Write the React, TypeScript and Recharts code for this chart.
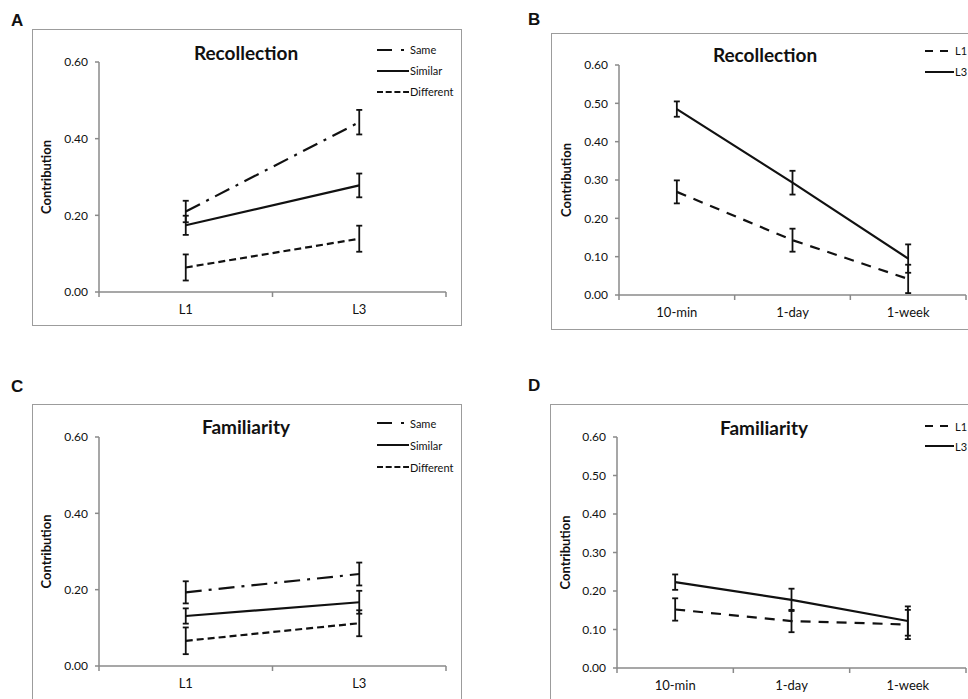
import React from 'react';
import { LineChart, Line, XAxis, YAxis, ErrorBar, Legend } from 'recharts';

// ---------- data ----------
const levels = ['L1', 'L3'];
const delays = ['10-min', '1-day', '1-week'];

const recSame = [0.21, 0.443];
const recSameErr = [0.028, 0.032];
const recSimilar = [0.174, 0.278];
const recSimilarErr = [0.025, 0.031];
const recDifferent = [0.064, 0.139];
const recDifferentErr = [0.034, 0.034];

const famSame = [0.193, 0.241];
const famSameErr = [0.029, 0.03];
const famSimilar = [0.131, 0.167];
const famSimilarErr = [0.02, 0.03];
const famDifferent = [0.066, 0.112];
const famDifferentErr = [0.035, 0.034];

const recL1 = [0.269, 0.143, 0.042];
const recL1Err = [0.03, 0.03, 0.037];
const recL3 = [0.485, 0.293, 0.095];
const recL3Err = [0.02, 0.031, 0.037];

const famL1 = [0.152, 0.122, 0.113];
const famL1Err = [0.029, 0.029, 0.038];
const famL3 = [0.223, 0.177, 0.122];
const famL3Err = [0.02, 0.029, 0.038];

const ticksLevel = [0, 0.2, 0.4, 0.6];
const ticksDelay = [0, 0.1, 0.2, 0.3, 0.4, 0.5, 0.6];

// ---------- styles ----------
const INK = '#111';
const AXIS = '#8a8a8a';
const FRAME = '#9c9c9c';
const FONT = "Lato, 'Open Sans', 'DejaVu Sans', sans-serif";

type Series = {
  name: string;
  values: number[];
  errors: number[];
  dash?: string;
  legendDash?: string;
};

const levelSeries = (same: number[], sameE: number[], sim: number[], simE: number[], diff: number[], diffE: number[]): Series[] => [
  { name: 'Same', values: same, errors: sameE, dash: '16 7 3 7', legendDash: '15 9 3 20' },
  { name: 'Similar', values: sim, errors: simE },
  { name: 'Different', values: diff, errors: diffE, dash: '7 4', legendDash: '6 2.7' },
];

const delaySeries = (l1: number[], l1E: number[], l3: number[], l3E: number[]): Series[] => [
  { name: 'L1', values: l1, errors: l1E, dash: '10 8', legendDash: '8 7' },
  { name: 'L3', values: l3, errors: l3E },
];

const buildData = (cats: string[], series: Series[]) =>
  cats.map((c, i) => {
    const row: Record<string, any> = { cat: c };
    series.forEach((s, k) => {
      row[`s${k}`] = s.values[i];
      row[`s${k}Err`] = s.errors[i];
    });
    return row;
  });

const makeXTick = (band: number) => (props: any) => {
  const { x, y, payload, index, visibleTicksCount } = props;
  const half = band / 2;
  return (
    <g>
      <line x1={x - half} x2={x - half} y1={y} y2={y + 5} stroke={AXIS} strokeWidth={1.5} />
      {index === visibleTicksCount - 1 && (
        <line x1={x + half} x2={x + half} y1={y} y2={y + 5} stroke={AXIS} strokeWidth={1.5} />
      )}
      <text x={x} y={y + 22} textAnchor="middle" fontSize={13} fill={INK}>
        {payload.value}
      </text>
    </g>
  );
};

type PanelProps = {
  left: number;
  top: number;
  width: number;
  height: number;
  plot: { left: number; top: number; right: number; bottom: number };
  categories: string[];
  series: Series[];
  yTicks: number[];
  title: string;
  titleCenter: [number, number];
  letter: string;
  letterPos: [number, number];
  yLabelX: number;
  legendPos: [number, number];
  legendRow: number;
  sampleW: number;
};

function Panel(p: PanelProps) {
  const data = buildData(p.categories, p.series);
  const plotWidth = p.width - p.plot.left - p.plot.right;
  const band = plotWidth / p.categories.length;
  const YW = 60;
  const XH = 30;
  const legendContent = () => (
    <div style={{ fontFamily: FONT }}>
      {p.series.map((s) => (
        <div key={s.name} style={{ display: 'flex', alignItems: 'center', height: p.legendRow }}>
          <svg width={p.sampleW} height={8} style={{ display: 'block' }}>
            <line x1={0} x2={p.sampleW} y1={4} y2={4} stroke={INK} strokeWidth={2} strokeDasharray={s.legendDash} />
          </svg>
          <span style={{ fontSize: 11, marginLeft: 1, color: INK, whiteSpace: 'nowrap' }}>{s.name}</span>
        </div>
      ))}
    </div>
  );
  return (
    <>
      <div
        style={{
          position: 'absolute',
          left: p.letterPos[0],
          top: p.letterPos[1],
          fontFamily: "'Liberation Sans', Arial, sans-serif",
          fontWeight: 'bold',
          fontSize: 17,
          lineHeight: '17px',
          color: INK,
        }}
      >
        {p.letter}
      </div>
      <div
        style={{
          position: 'absolute',
          left: p.left,
          top: p.top,
          width: p.width,
          height: p.height,
          boxSizing: 'border-box',
          border: `1.5px solid ${FRAME}`,
        }}
      />
      <div style={{ position: 'absolute', left: p.left, top: p.top }}>
        <LineChart
          width={p.width}
          height={p.height}
          data={data}
          margin={{ top: p.plot.top, right: p.plot.right, bottom: p.plot.bottom - XH, left: p.plot.left - YW }}
        >
          <XAxis
            dataKey="cat"
            scale="band"
            height={XH}
            stroke={AXIS}
            strokeWidth={1.5}
            tickLine={false}
            tickSize={0}
            tickMargin={0}
            tick={makeXTick(band)}
            interval={0}
          />
          <YAxis
            width={YW}
            domain={[0, 0.6]}
            ticks={p.yTicks}
            interval={0}
            stroke={AXIS}
            strokeWidth={1.5}
            tickSize={4}
            tickMargin={7}
            tick={{ fontSize: 12, fill: INK }}
            tickFormatter={(v: number) => v.toFixed(2)}
            label={{
              content: (lp: any) => {
                const vb = lp.viewBox || { y: p.plot.top, height: p.height - p.plot.top - p.plot.bottom };
                const cy = vb.y + vb.height / 2;
                return (
                  <text
                    x={p.yLabelX}
                    y={cy}
                    transform={`rotate(-90 ${p.yLabelX} ${cy})`}
                    textAnchor="middle"
                    dominantBaseline="central"
                    fontSize={13}
                    fontWeight="bold"
                    fill={INK}
                  >
                    Contribution
                  </text>
                );
              },
            }}
          />
          <Legend
            layout="vertical"
            align="center"
            verticalAlign="middle"
            wrapperStyle={{ left: p.legendPos[0], top: p.legendPos[1], width: 'auto', height: 'auto' }}
            content={legendContent}
          />
          {p.series.map((s, k) => (
            <Line
              key={s.name}
              name={s.name}
              type="linear"
              dataKey={`s${k}`}
              stroke={INK}
              strokeWidth={2.2}
              strokeDasharray={s.dash}
              dot={false}
              activeDot={false}
              isAnimationActive={false}
            >
              <ErrorBar dataKey={`s${k}Err`} direction="y" width={3} stroke={INK} strokeWidth={1.8} />
            </Line>
          ))}
        </LineChart>
      </div>
      <div
        style={{
          position: 'absolute',
          left: p.titleCenter[0] - 100,
          top: p.titleCenter[1] - 12,
          width: 200,
          height: 24,
          lineHeight: '24px',
          textAlign: 'center',
          fontFamily: FONT,
          fontWeight: 'bold',
          fontSize: 19,
          color: INK,
        }}
      >
        {p.title}
      </div>
    </>
  );
}

export default function App() {
  return (
    <div
      style={{
        position: 'absolute',
        left: 0,
        top: 0,
        width: 968,
        height: 699,
        overflow: 'hidden',
        background: '#fff',
        fontFamily: FONT,
      }}
    >
      <Panel
        left={32}
        top={29}
        width={430}
        height={297}
        plot={{ left: 67, top: 33, right: 16, bottom: 34 }}
        categories={levels}
        series={levelSeries(recSame, recSameErr, recSimilar, recSimilarErr, recDifferent, recDifferentErr)}
        yTicks={ticksLevel}
        title="Recollection"
        titleCenter={[246, 53]}
        letter="A"
        letterPos={[11, 12]}
        yLabelX={14}
        legendPos={[345, 10]}
        legendRow={21}
        sampleW={32}
      />
      <Panel
        left={551}
        top={33}
        width={430}
        height={297}
        plot={{ left: 68, top: 32, right: 15, bottom: 35 }}
        categories={delays}
        series={delaySeries(recL1, recL1Err, recL3, recL3Err)}
        yTicks={ticksDelay}
        title="Recollection"
        titleCenter={[765, 55]}
        letter="B"
        letterPos={[528, 11]}
        yLabelX={15}
        legendPos={[374, 7]}
        legendRow={21}
        sampleW={29}
      />
      <Panel
        left={32}
        top={404}
        width={430}
        height={298}
        plot={{ left: 67, top: 33, right: 16, bottom: 36 }}
        categories={levels}
        series={levelSeries(famSame, famSameErr, famSimilar, famSimilarErr, famDifferent, famDifferentErr)}
        yTicks={ticksLevel}
        title="Familiarity"
        titleCenter={[246, 427]}
        letter="C"
        letterPos={[11, 378]}
        yLabelX={14}
        legendPos={[345, 8]}
        legendRow={22}
        sampleW={32}
      />
      <Panel
        left={550}
        top={404}
        width={430}
        height={298}
        plot={{ left: 67, top: 33, right: 14, bottom: 34 }}
        categories={delays}
        series={delaySeries(famL1, famL1Err, famL3, famL3Err)}
        yTicks={ticksDelay}
        title="Familiarity"
        titleCenter={[764, 428]}
        letter="D"
        letterPos={[528, 377]}
        yLabelX={15}
        legendPos={[375, 12]}
        legendRow={20}
        sampleW={29}
      />
    </div>
  );
}
